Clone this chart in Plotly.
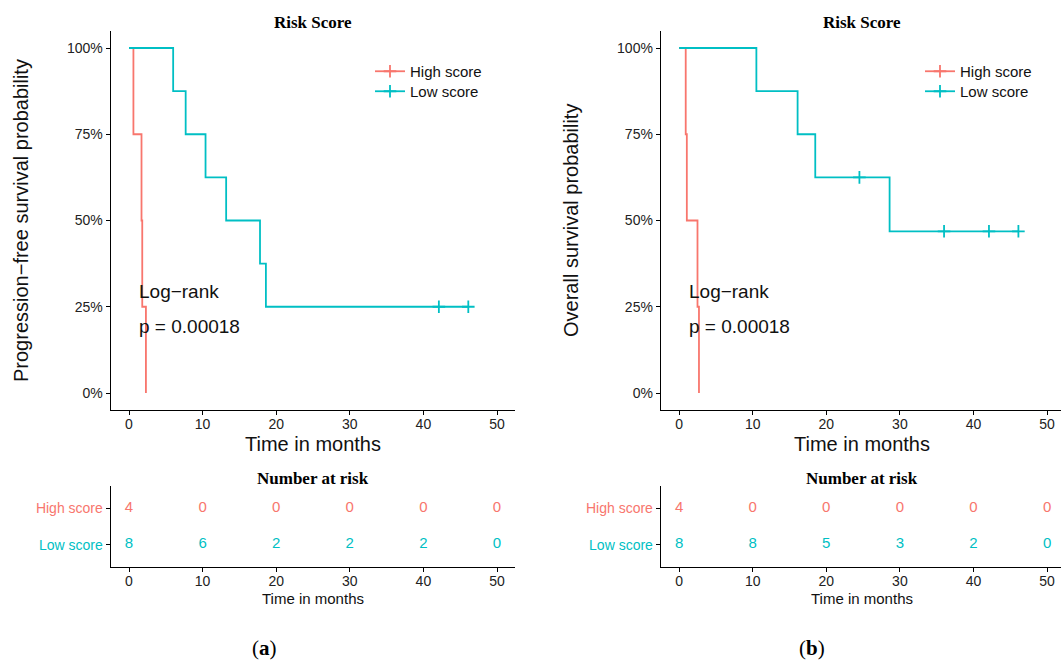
import plotly.graph_objects as go

# ---------------- data ----------------
groups = ["High score", "Low score"]
colors = {"High score": "#F8766D", "Low score": "#00BFC4"}

# Panel (a): progression-free survival
a_high_time = [0, 0.6, 1.7, 1.8, 2.3]
a_high_surv = [1.0, 0.75, 0.50, 0.25, 0.0]
a_high_cens = [0, 0, 0, 0, 0]
a_low_time = [0, 6.0, 7.7, 10.4, 13.2, 17.8, 18.6, 42.1, 46.1]
a_low_surv = [1.0, 0.875, 0.75, 0.625, 0.50, 0.375, 0.25, 0.25, 0.25]
a_low_cens = [0, 0, 0, 0, 0, 0, 0, 1, 1]

# Panel (b): overall survival
b_high_time = [0, 0.9, 1.05, 2.5, 2.7]
b_high_surv = [1.0, 0.75, 0.50, 0.25, 0.0]
b_high_cens = [0, 0, 0, 0, 0]
b_low_time = [0, 10.5, 16.1, 18.5, 24.5, 28.6, 36.0, 42.1, 46.1]
b_low_surv = [1.0, 0.875, 0.75, 0.625, 0.625, 0.46875, 0.46875, 0.46875, 0.46875]
b_low_cens = [0, 0, 0, 0, 1, 0, 1, 1, 1]

risk_times = [0, 10, 20, 30, 40, 50]
a_risk_high = [4, 0, 0, 0, 0, 0]
a_risk_low = [8, 6, 2, 2, 2, 0]
b_risk_high = [4, 0, 0, 0, 0, 0]
b_risk_low = [8, 8, 5, 3, 2, 0]

y_ticks = [0, 0.25, 0.5, 0.75, 1.0]
y_ticklabels = ["0%", "25%", "50%", "75%", "100%"]
pval_text = ["Log\u2212rank", "p = 0.00018"]

W, H = 1061, 664
SANS = "Liberation Sans, Arial, sans-serif"
SERIF = "Liberation Serif, Times New Roman, serif"

fig = go.Figure()


def py(p):  # pixel y -> paper y
    return 1 - p / H


def px(p):
    return p / W


def add_km(xa, ya, t, s, c, name, legend):
    col = colors[name]
    fig.add_trace(go.Scatter(x=t, y=s, mode="lines", line=dict(color=col, width=1.8, shape="hv"),
                             xaxis=xa, yaxis=ya, showlegend=False, hoverinfo="skip"))
    ct = [ti for ti, ci in zip(t, c) if ci]
    cs = [si for si, ci in zip(s, c) if ci]
    if ct:
        fig.add_trace(go.Scatter(x=ct, y=cs, mode="markers",
                                 marker=dict(symbol="cross-thin", size=9, color=col,
                                             line=dict(color=col, width=1.8)),
                                 xaxis=xa, yaxis=ya, showlegend=False, hoverinfo="skip"))
    # legend entry
    fig.add_trace(go.Scatter(x=[None], y=[None], mode="lines+markers", name=name,
                             line=dict(color=col, width=1.8),
                             marker=dict(symbol="cross-thin", size=9, color=col,
                                         line=dict(color=col, width=1.8)),
                             xaxis=xa, yaxis=ya, legend=legend, showlegend=True))


add_km("x", "y", a_high_time, a_high_surv, a_high_cens, "High score", "legend")
add_km("x", "y", a_low_time, a_low_surv, a_low_cens, "Low score", "legend2")
add_km("x3", "y3", b_high_time, b_high_surv, b_high_cens, "High score", "legend3")
add_km("x3", "y3", b_low_time, b_low_surv, b_low_cens, "Low score", "legend4")

# risk tables
for xa, ya, hi, lo in [("x2", "y2", a_risk_high, a_risk_low), ("x4", "y4", b_risk_high, b_risk_low)]:
    fig.add_trace(go.Scatter(x=risk_times, y=[2] * len(risk_times), mode="text",
                             text=[str(v) for v in hi],
                             textfont=dict(color=colors["High score"], size=15, family=SANS),
                             xaxis=xa, yaxis=ya, showlegend=False, hoverinfo="skip"))
    fig.add_trace(go.Scatter(x=risk_times, y=[1] * len(risk_times), mode="text",
                             text=[str(v) for v in lo],
                             textfont=dict(color=colors["Low score"], size=15, family=SANS),
                             xaxis=xa, yaxis=ya, showlegend=False, hoverinfo="skip"))

# ---------------- layout ----------------
a_left, a_right = 110.6, 515.4
b_left, b_right = 660.7, 1061
top_y0, top_y1 = 30.75, 410.25
tab_y0, tab_y1 = 486, 566.7
a_xmax = 52.5
b_xmax = -2.5 + (b_right - b_left) / ((a_right - a_left) / 55.0)

axis_common = dict(showline=True, linecolor="black", linewidth=1, ticks="outside",
                   ticklen=4, tickwidth=1, tickcolor="black", showgrid=False, zeroline=False,
                   tickfont=dict(family=SANS, size=14, color="#222222"))

xticks = dict(tickvals=[0, 10, 20, 30, 40, 50], ticktext=["0", "10", "20", "30", "40", "50"],
              ticklabelstandoff=-3)


def leg(xp, yp):
    return dict(x=px(xp), y=py(yp), xanchor="left", yanchor="top", bgcolor="rgba(0,0,0,0)",
                font=dict(family=SANS, size=15, color="#111111"), tracegroupgap=0, itemwidth=30)


layout = dict(
    width=W, height=H, margin=dict(l=0, r=0, t=0, b=0),
    paper_bgcolor="white", plot_bgcolor="white",
    xaxis=dict(domain=[px(a_left), px(a_right)], range=[-2.5, a_xmax], anchor="y", **xticks, **axis_common),
    yaxis=dict(domain=[py(top_y1), py(top_y0)], range=[-0.05, 1.05], anchor="x",
               tickvals=y_ticks, ticktext=y_ticklabels, **axis_common),
    xaxis2=dict(domain=[px(a_left), px(a_right)], range=[-2.5, a_xmax], anchor="y2", **xticks, **axis_common),
    yaxis2=dict(domain=[py(tab_y1), py(tab_y0)], range=[0.4, 2.6], anchor="x2",
                tickvals=[2, 1],
                ticktext=['<span style="color:#F8766D">High score</span>',
                          '<span style="color:#00BFC4">Low score</span>'], **axis_common),
    xaxis3=dict(domain=[px(b_left), 1.0], range=[-2.5, b_xmax], anchor="y3", **xticks, **axis_common),
    yaxis3=dict(domain=[py(top_y1), py(top_y0)], range=[-0.05, 1.05], anchor="x3",
                tickvals=y_ticks, ticktext=y_ticklabels, **axis_common),
    xaxis4=dict(domain=[px(b_left), 1.0], range=[-2.5, b_xmax], anchor="y4", **xticks, **axis_common),
    yaxis4=dict(domain=[py(tab_y1), py(tab_y0)], range=[0.4, 2.6], anchor="x4",
                tickvals=[2, 1],
                ticktext=['<span style="color:#F8766D">High score</span>',
                          '<span style="color:#00BFC4">Low score</span>'], **axis_common),
    legend=leg(370, 55),
    legend2=leg(370, 75),
    legend3=leg(920, 55),
    legend4=leg(920, 75),
    showlegend=True,
)
fig.update_layout(**layout)

ann = []
for cx, xref, ytitle, lab in [((a_left + a_right) / 2, "x", "Progression\u2212free survival probability", "a"),
                              ((b_left + 1063.5) / 2, "x3", "Overall survival probability", "b")]:
    common = dict(xref="paper", yref="paper", showarrow=False, xanchor="center", yanchor="middle")
    ann.append(dict(text="<b>Risk Score</b>", x=px(cx), y=py(23),
                    font=dict(family=SERIF, size=17, color="black"), **common))
    ann.append(dict(text="<b>Number at risk</b>", x=px(cx), y=py(478),
                    font=dict(family=SERIF, size=17, color="black"), **common))
    ann.append(dict(text="Time in months", x=px(cx), y=py(444),
                    font=dict(family=SANS, size=20, color="#111111"), **common))
    ann.append(dict(text="Time in months", x=px(cx), y=py(598),
                    font=dict(family=SANS, size=15, color="#111111"), **common))
    ylx = 21 if lab == "a" else 571
    ann.append(dict(text=ytitle, x=px(ylx), y=py(221), textangle=-90,
                    font=dict(family=SANS, size=20, color="#111111"), **common))
    ann.append(dict(text="(<b>%s</b>)" % lab, x=px(264 if lab == "a" else 812), y=py(648),
                    font=dict(family=SERIF, size=21, color="black"), **common))
    yref = "y" if lab == "a" else "y3"
    for txt, yv in zip(pval_text, [0.293, 0.194]):
        ann.append(dict(text=txt, x=1.1, y=yv, xref=xref, yref=yref, xanchor="left", yanchor="middle",
                        showarrow=False, font=dict(family=SANS, size=19, color="#111111")))
fig.update_layout(annotations=ann)

fig.write_html("out.html")
